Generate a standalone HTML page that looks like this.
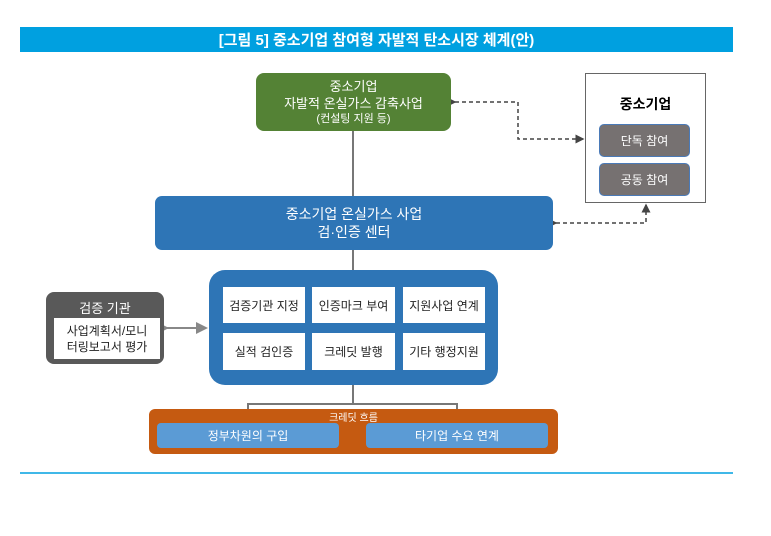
<!DOCTYPE html><html><head><meta charset="utf-8"><style>
body{margin:0;width:771px;height:536px;background:#fff;position:relative;overflow:hidden;font-family:"Liberation Sans","Noto Sans CJK KR",sans-serif}
div{position:absolute;box-sizing:border-box;text-align:center}
.c{display:flex;align-items:center;justify-content:center;flex-direction:column}
.w{background:#fff;font-size:12px;color:#222}
</style></head><body>
<div class="c" style="left:20px;top:27px;width:713px;height:25px;background:#00a0e0;color:#fff;font-weight:bold;font-size:15px">[그림 5] 중소기업 참여형 자발적 탄소시장 체계(안)</div>
<svg width="771" height="536" style="position:absolute;left:0;top:0">
<defs><marker id="a" markerWidth="6" markerHeight="6" refX="5" refY="3" orient="auto"><path d="M0,0L6,3L0,6z" fill="#444"/></marker>
<marker id="g" markerWidth="6" markerHeight="6" refX="5" refY="3" orient="auto"><path d="M0,0L6,3L0,6z" fill="#888"/></marker></defs>
<line x1="353" y1="131" x2="353" y2="196" stroke="#777" stroke-width="2"/>
<line x1="353" y1="250" x2="353" y2="270" stroke="#777" stroke-width="2"/>
<polyline points="353,385 353,404 248,404 248,423" fill="none" stroke="#777" stroke-width="2"/>
<polyline points="353,404 457,404 457,423" fill="none" stroke="#777" stroke-width="2"/>
<polyline points="455,102 518,102 518,139 583,139" fill="none" stroke="#444" stroke-width="1.5" stroke-dasharray="4,3" marker-start="url(#a)" marker-end="url(#a)"/>
<polyline points="556,223 646,223 646,205" fill="none" stroke="#444" stroke-width="1.5" stroke-dasharray="4,3" marker-start="url(#a)" marker-end="url(#a)"/>
<line x1="167" y1="328" x2="206" y2="328" stroke="#888" stroke-width="2" marker-start="url(#g)" marker-end="url(#g)"/>
<line x1="20" y1="473" x2="733" y2="473" stroke="#00a0e0" stroke-width="1.5"/>
</svg>
<div class="c" style="left:256px;top:73px;width:195px;height:58px;background:#548235;border-radius:8px;color:#fff;font-size:13px;line-height:17px">중소기업<br>자발적 온실가스 감축사업<span style="font-size:11px;line-height:14px">(컨설팅 지원 등)</span></div>
<div style="left:585px;top:73px;width:121px;height:130px;border:1px solid #666;background:#fff"></div>
<div style="left:585px;top:94px;width:121px;font-weight:bold;font-size:14px">중소기업</div>
<div class="c" style="left:599px;top:124px;width:91px;height:33px;background:#767171;border:1px solid #4a7ab8;border-radius:5px;color:#fff;font-size:12px">단독 참여</div>
<div class="c" style="left:599px;top:163px;width:91px;height:33px;background:#767171;border:1px solid #4a7ab8;border-radius:5px;color:#fff;font-size:12px">공동 참여</div>
<div class="c" style="left:155px;top:196px;width:398px;height:54px;background:#2e75b6;border-radius:7px;color:#fff;font-size:14px;line-height:18px">중소기업 온실가스 사업<br>검·인증 센터</div>
<div style="left:209px;top:270px;width:289px;height:115px;background:#2e75b6;border-radius:16px"></div>
<div class="c w" style="left:223px;top:287px;width:82px;height:36px">검증기관 지정</div>
<div class="c w" style="left:312px;top:287px;width:83px;height:36px">인증마크 부여</div>
<div class="c w" style="left:403px;top:287px;width:82px;height:36px">지원사업 연계</div>
<div class="c w" style="left:223px;top:333px;width:82px;height:37px">실적 검인증</div>
<div class="c w" style="left:312px;top:333px;width:83px;height:37px">크레딧 발행</div>
<div class="c w" style="left:403px;top:333px;width:82px;height:37px">기타 행정지원</div>
<div style="left:46px;top:292px;width:118px;height:72px;background:#595959;border-radius:8px"></div>
<div style="left:46px;top:298px;width:118px;color:#fff;font-size:13px">검증 기관</div>
<div class="c w" style="left:54px;top:318px;width:106px;height:41px;line-height:16px">사업계획서/모니<br>터링보고서 평가</div>
<div style="left:149px;top:409px;width:409px;height:45px;background:#c55a11;border-radius:6px"></div>
<div style="left:149px;top:409px;width:409px;color:#fff;font-size:10px">크레딧 흐름</div>
<div class="c" style="left:157px;top:423px;width:182px;height:25px;background:#5b9bd5;border-radius:4px;color:#fff;font-size:12px">정부차원의 구입</div>
<div class="c" style="left:366px;top:423px;width:182px;height:25px;background:#5b9bd5;border-radius:4px;color:#fff;font-size:12px">타기업 수요 연계</div>
</body></html>
